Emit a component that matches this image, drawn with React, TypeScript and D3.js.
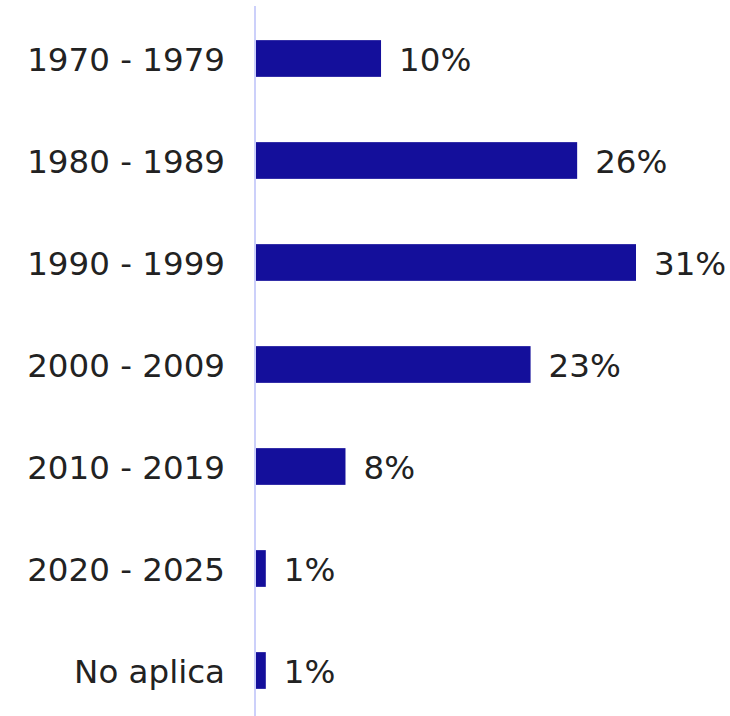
import React, { useEffect, useRef } from 'react';
import * as d3 from 'd3';

const categories = ['1970 - 1979', '1980 - 1989', '1990 - 1999', '2000 - 2009', '2010 - 2019', '2020 - 2025', 'No aplica'];
const values = [10.2, 26.2, 31.0, 22.4, 7.3, 0.8, 0.8];
const labels = ['10%', '26%', '31%', '23%', '8%', '1%', '1%'];

const width = 730;
const height = 716;

const App: React.FC = () => {
  const svgRef = useRef<SVGSVGElement>(null);

  useEffect(() => {
    if (!svgRef.current) return;
    const svg = d3.select(svgRef.current);
    svg.selectAll('*').remove();

    const x0 = 256;
    const x = d3.scaleLinear().domain([0, 31]).range([x0, 636]);
    const y = d3.scaleBand<string>()
      .domain(categories)
      .range([7.5, 721.5])
      .paddingInner(0.64)
      .paddingOuter(0.32);

    const font = "'DejaVu Sans', Verdana, sans-serif";

    // eje vertical
    svg.append('line')
      .attr('x1', 255).attr('x2', 255)
      .attr('y1', 6).attr('y2', height)
      .attr('stroke', '#ccd0fa')
      .attr('stroke-width', 2);

    svg.append('g')
      .selectAll('rect')
      .data(values)
      .join('rect')
      .attr('x', x0)
      .attr('y', (_, i) => y(categories[i])!)
      .attr('width', d => x(d) - x0)
      .attr('height', y.bandwidth())
      .attr('fill', '#140f9b');

    // etiquetas de categoría
    svg.append('g')
      .selectAll('text')
      .data(categories)
      .join('text')
      .attr('x', 225)
      .attr('y', d => y(d)! + y.bandwidth() / 2)
      .attr('dy', '0.37em')
      .attr('text-anchor', 'end')
      .style('font-family', font)
      .style('font-size', '32.5px')
      .attr('fill', '#222')
      .text(d => d);

    // etiquetas de valor
    svg.append('g')
      .selectAll('text')
      .data(values)
      .join('text')
      .attr('x', d => x(d) + 18)
      .attr('y', (_, i) => y(categories[i])! + y.bandwidth() / 2)
      .attr('dy', '0.37em')
      .style('font-family', font)
      .style('font-size', '32.5px')
      .attr('fill', '#222')
      .text((_, i) => labels[i]);
  }, []);

  return (
    <svg
      ref={svgRef}
      width={width}
      height={height}
      style={{ position: 'absolute', left: 0, top: 0, background: '#fff' }}
    />
  );
};

export default App;
